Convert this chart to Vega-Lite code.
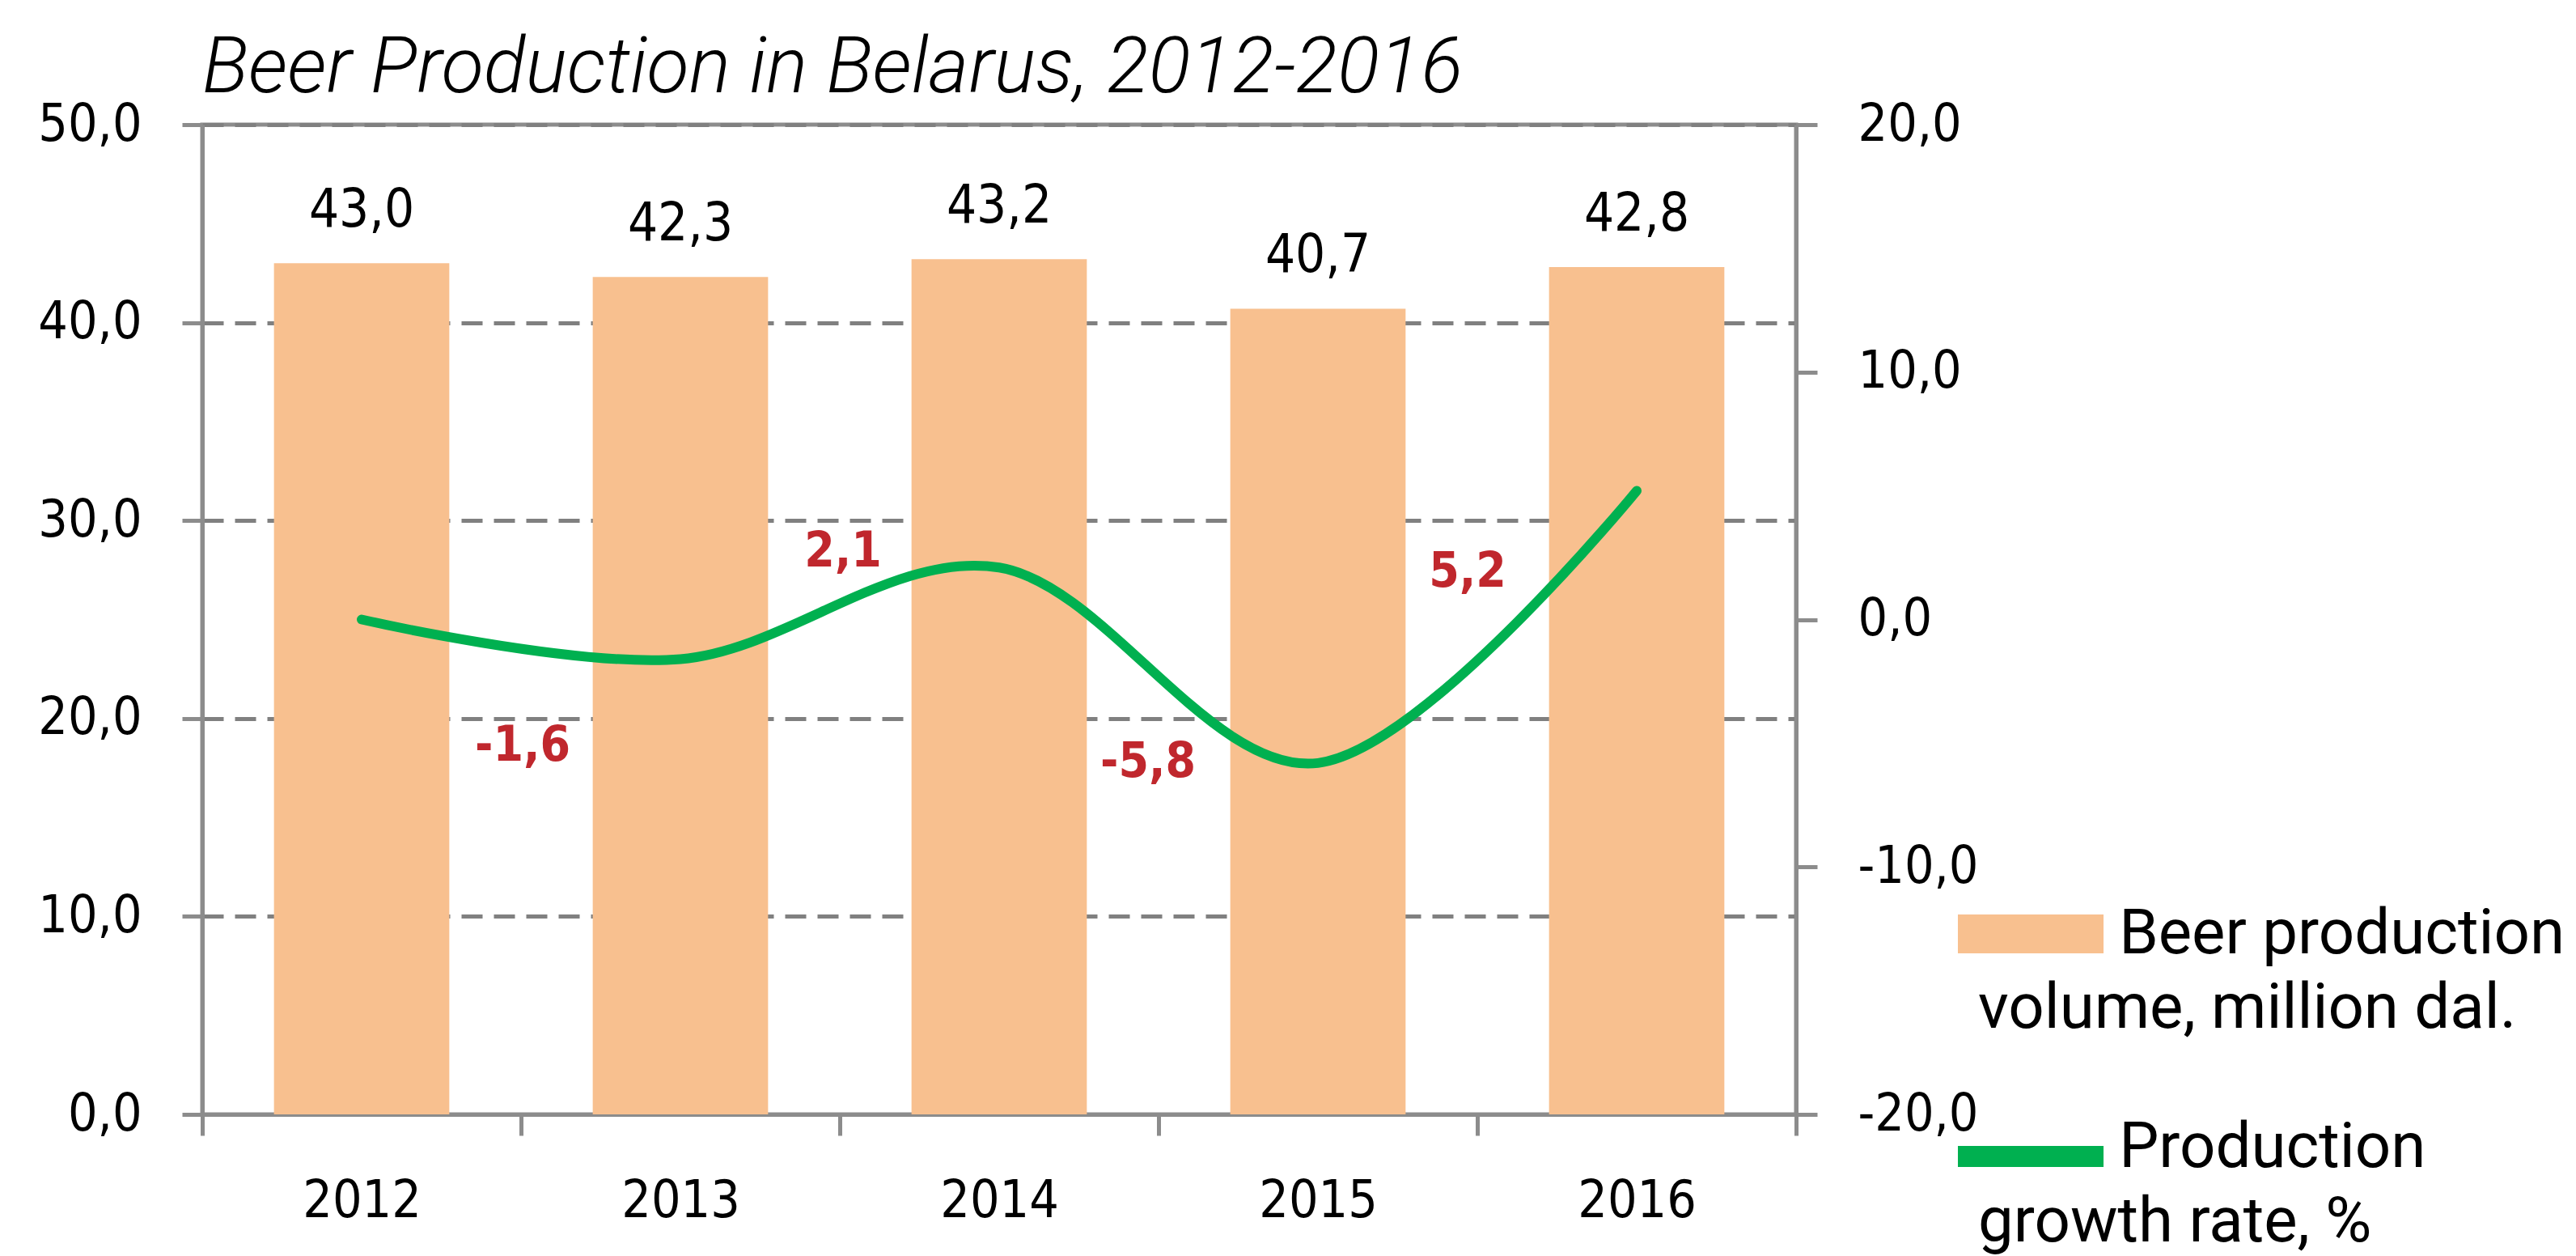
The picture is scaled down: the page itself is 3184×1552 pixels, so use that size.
{
  "$schema": "https://vega.github.io/schema/vega-lite/v6.json",
  "autosize": {"type": "none"},
  "width": 1970,
  "height": 1223,
  "padding": {"left": 250, "top": 154, "right": 964, "bottom": 175},
  "background": "white",
  "title": {
    "text": "Beer Production in Belarus, 2012-2016",
    "anchor": "start",
    "frame": "group",
    "font": "Roboto",
    "fontSize": 96,
    "fontStyle": "italic",
    "fontWeight": 300,
    "color": "#000000",
    "baseline": "alphabetic",
    "offset": 40,
    "dy": 128
  },
  "config": {
    "locale": {"number": {"decimal": ",", "thousands": " ", "grouping": [3], "currency": ["", ""], "minus": "-"}},
    "view": {"stroke": "#8c8c8c", "strokeWidth": 5},
    "axis": {
      "domainColor": "#8c8c8c",
      "domainWidth": 5,
      "tickColor": "#8c8c8c",
      "tickWidth": 5,
      "labelFont": "DejaVu Sans Condensed, DejaVu Sans",
      "labelFontSize": 64,
      "labelColor": "#000000",
      "title": null
    }
  },
  "data": {
    "values": [
      {"year": "2012", "volume": 43.0, "growth": 0.0},
      {"year": "2013", "volume": 42.3, "growth": -1.6},
      {"year": "2014", "volume": 43.2, "growth": 2.1},
      {"year": "2015", "volume": 40.7, "growth": -5.8},
      {"year": "2016", "volume": 42.8, "growth": 5.2}
    ]
  },
  "encoding": {
    "x": {
      "field": "year",
      "type": "ordinal",
      "scale": {"paddingInner": 0, "paddingOuter": 0},
      "axis": {"tickBand": "extent", "tickSize": 26, "labelPadding": 100, "labelBaseline": "alphabetic", "labelAngle": 0, "title": null}
    }
  },
  "layer": [
    {
      "encoding": {
        "y": {
          "field": "volume",
          "type": "quantitative",
          "scale": {"domain": [0, 50], "nice": false, "zero": true},
          "axis": {"orient": "left", "values": [0, 10, 20, 30, 40, 50], "format": ".1f", "grid": true, "gridColor": "#808080", "gridWidth": 5, "gridDash": [26, 14], "tickSize": 25, "labelPadding": 50, "title": null}
        }
      },
      "layer": [
        {
          "mark": {"type": "bar", "width": {"band": 0.55}},
          "encoding": {
            "color": {
              "datum": "Beer production volume, million dal.",
              "type": "nominal",
              "scale": {"domain": ["Beer production volume, million dal.", "Production growth rate, %"], "range": ["#F8C08F", "#00B050"]},
              "legend": {
                "orient": "none",
                "legendX": 2170,
                "legendY": 934,
                "title": null,
                "padding": 0,
                "symbolSize": 32400,
                "labelFont": "Roboto",
                "labelFontSize": 78,
                "labelFontWeight": 400,
                "labelColor": "#000000",
                "labelOffset": -155,
                "labelBaseline": "alphabetic",
                "labelLimit": 3000,
                "rowPadding": 66,
                "labelExpr": "datum.value == 'Beer production volume, million dal.' ? ['\\u200b\\u00a0\\u00a0\\u00a0\\u00a0\\u00a0\\u00a0\\u00a0\\u00a0\\u00a0Beer production', 'volume, million dal.'] : ['\\u200b\\u00a0\\u00a0\\u00a0\\u00a0\\u00a0\\u00a0\\u00a0\\u00a0\\u00a0Production', 'growth rate, %']",
                "encode": {
                  "symbols": {
                    "update": {
                      "shape": {"signal": "datum.value == 'Production growth rate, %' ? 'M-1,-0.289H1V0H-1Z' : 'M-1,-0.533H1V0H-1Z'"},
                      "fill": {"scale": "color", "field": "value"},
                      "stroke": {"value": "transparent"},
                      "strokeWidth": {"value": 0},
                      "opacity": {"value": 1}
                    }
                  },
                  "labels": {"update": {"lineHeight": {"value": 92}}}
                }
              }
            }
          }
        },
        {
          "mark": {"type": "text", "align": "center", "baseline": "alphabetic", "dy": -45, "font": "DejaVu Sans Condensed, DejaVu Sans", "fontSize": 65, "color": "#000000"},
          "encoding": {"text": {"field": "volume", "type": "quantitative", "format": ".1f"}}
        }
      ]
    },
    {
      "encoding": {
        "y": {
          "field": "growth",
          "type": "quantitative",
          "scale": {"domain": [-20, 20], "nice": false, "zero": false},
          "axis": {"orient": "right", "values": [-20, -10, 0, 10, 20], "format": ".1f", "grid": false, "tickSize": 26, "labelPadding": 50, "title": null}
        }
      },
      "layer": [
        {
          "mark": {"type": "line", "interpolate": "cardinal", "strokeWidth": 12, "strokeCap": "round"},
          "encoding": {"color": {"datum": "Production growth rate, %", "type": "nominal"}}
        },
        {
          "transform": [{"filter": "datum.year == '2013'"}],
          "mark": {"type": "text", "align": "center", "baseline": "middle", "dx": -195, "dy": 108, "font": "DejaVu Sans Condensed, DejaVu Sans", "fontWeight": "bold", "fontSize": 60, "color": "#C0272D"},
          "encoding": {"text": {"field": "growth", "type": "quantitative", "format": ".1f"}}
        },
        {
          "transform": [{"filter": "datum.year == '2014'"}],
          "mark": {"type": "text", "align": "center", "baseline": "middle", "dx": -193, "dy": -19, "font": "DejaVu Sans Condensed, DejaVu Sans", "fontWeight": "bold", "fontSize": 60, "color": "#C0272D"},
          "encoding": {"text": {"field": "growth", "type": "quantitative", "format": ".1f"}}
        },
        {
          "transform": [{"filter": "datum.year == '2015'"}],
          "mark": {"type": "text", "align": "center", "baseline": "middle", "dx": -210, "dy": -1, "font": "DejaVu Sans Condensed, DejaVu Sans", "fontWeight": "bold", "fontSize": 60, "color": "#C0272D"},
          "encoding": {"text": {"field": "growth", "type": "quantitative", "format": ".1f"}}
        },
        {
          "transform": [{"filter": "datum.year == '2016'"}],
          "mark": {"type": "text", "align": "center", "baseline": "middle", "dx": -209, "dy": 100, "font": "DejaVu Sans Condensed, DejaVu Sans", "fontWeight": "bold", "fontSize": 60, "color": "#C0272D"},
          "encoding": {"text": {"field": "growth", "type": "quantitative", "format": ".1f"}}
        }
      ]
    }
  ],
  "resolve": {"scale": {"y": "independent"}, "axis": {"y": "independent"}}
}
